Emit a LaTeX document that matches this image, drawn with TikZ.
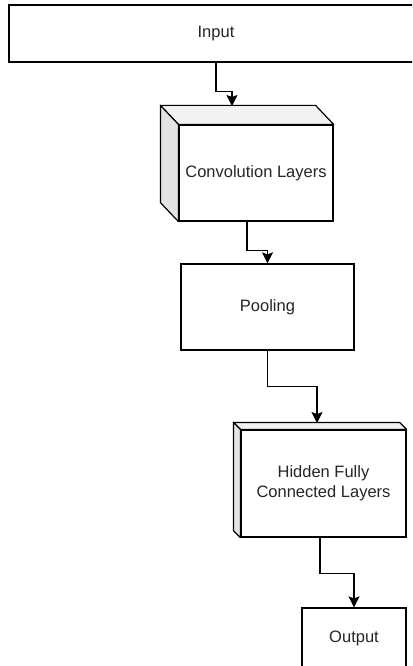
\documentclass[tikz,border=0pt]{standalone}
\usepackage{fontspec}
\setmainfont{Liberation Sans}
\usetikzlibrary{arrows.meta,calc}

\begin{document}
\begin{tikzpicture}[x=1pt,y=-1pt,
  box/.style={draw,line width=1.2pt,fill=white,align=center,inner sep=0pt,
    text=black!85,font=\fontsize{16.5}{20}\selectfont},
  face/.style={draw,line width=1.2pt,line join=round},
  flow/.style={line width=1.2pt,-{Stealth[length=11pt,width=11pt,inset=2pt]}}]
\useasboundingbox (0,0) rectangle (412,666);
\clip (0,0) rectangle (412,666);

\node[box,minimum width=414pt,minimum height=57pt] (input) at (216,33.5) {Input};

\node[box,minimum width=154pt,minimum height=96pt] (conv) at (256,173) {Convolution Layers};
\draw[face,fill=black!5] (conv.north west) -- ++(-18,-19) -- ($(conv.north east)+(-18,-19)$) -- (conv.north east) -- cycle;
\draw[face,fill=black!11] (conv.north west) -- ++(-18,-19) -- ($(conv.south west)+(-18,-19)$) -- (conv.south west) -- cycle;
\coordinate (convtop) at (232,106);

\node[box,minimum width=173pt,minimum height=86pt] (pool) at (267.5,307) {Pooling};

\node[box,minimum width=165pt,minimum height=107pt] (hidden) at (323.5,483.5) {Hidden Fully\\Connected Layers};
\draw[face,fill=black!5] (hidden.north west) -- ++(-7,-7) -- ($(hidden.north east)+(-7,-7)$) -- (hidden.north east) -- cycle;
\draw[face,fill=black!11] (hidden.north west) -- ++(-7,-7) -- ($(hidden.south west)+(-7,-7)$) -- (hidden.south west) -- cycle;
\coordinate (hiddentop) at (317,423);

\node[box,minimum width=104pt,minimum height=60pt] (output) at (354,638) {Output};

\draw[flow] (input.south) -- ++(0,29) -| (convtop);
\draw[flow] ([xshift=-9pt]conv.south) -- ++(0,29) -| (pool.north);
\draw[flow] (pool.south) -- ++(0,36) -| (hiddentop);
\draw[flow] ([xshift=-3.5pt]hidden.south) -- ++(0,36) -| (output.north);
\end{tikzpicture}
\end{document}
